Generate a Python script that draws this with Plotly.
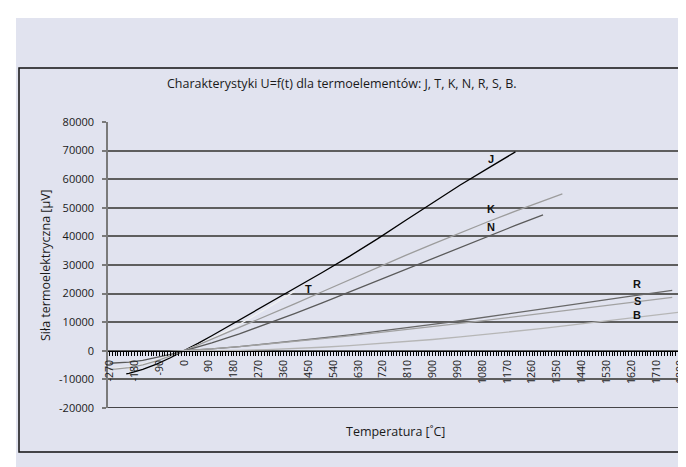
import plotly.graph_objects as go

# ---- data (thermo-EMF in microvolts vs temperature in deg C) ----
t_J = [-210, -200, -150, -100, -50, 0, 50, 100, 150, 200, 300, 400, 500, 600, 700, 800, 900, 1000, 1100, 1200]
u_J = [-8095, -7890, -6500, -4633, -2431, 0, 2585, 5269, 8010, 10779, 16327, 21848, 27393, 33102, 39132, 45494, 51877, 57953, 63792, 69553]

t_T = [-270, -250, -200, -150, -100, -50, 0, 50, 100, 150, 200, 300, 400]
u_T = [-6258, -6180, -5603, -4648, -3379, -1819, 0, 2036, 4279, 6704, 9288, 14862, 20872]

t_K = [-270, -250, -200, -150, -100, -50, 0, 100, 200, 300, 400, 500, 600, 700, 800, 900, 1000, 1100, 1200, 1300, 1370]
u_K = [-6458, -6404, -5891, -4913, -3554, -1889, 0, 4096, 8138, 12209, 16397, 20644, 24905, 29129, 33275, 37326, 41276, 45119, 48838, 52410, 54886]

t_N = [-270, -250, -200, -150, -100, -50, 0, 100, 200, 300, 400, 500, 600, 700, 800, 900, 1000, 1100, 1200, 1300]
u_N = [-4345, -4313, -3990, -3336, -2407, -1269, 0, 2774, 5913, 9341, 12974, 16748, 20613, 24527, 28455, 32371, 36256, 40087, 43846, 47513]

t_R = [-50, 0, 100, 200, 300, 400, 500, 600, 700, 800, 900, 1000, 1100, 1200, 1300, 1400, 1500, 1600, 1700, 1768]
u_R = [-226, 0, 647, 1469, 2401, 3408, 4471, 5583, 6743, 7950, 9205, 10506, 11850, 13228, 14629, 16040, 17451, 18849, 20222, 21103]

t_S = [-50, 0, 100, 200, 300, 400, 500, 600, 700, 800, 900, 1000, 1100, 1200, 1300, 1400, 1500, 1600, 1700, 1768]
u_S = [-236, 0, 646, 1441, 2323, 3259, 4233, 5239, 6275, 7345, 8449, 9587, 10757, 11951, 13159, 14373, 15582, 16777, 17947, 18693]

t_B = [0, 100, 200, 300, 400, 500, 600, 700, 800, 900, 1000, 1100, 1200, 1300, 1400, 1500, 1600, 1700, 1800, 1820]
u_B = [0, 33, 178, 431, 787, 1242, 1792, 2431, 3154, 3957, 4834, 5780, 6786, 7848, 8956, 10099, 11263, 12433, 13591, 13820]

x_tick_vals = [-270, -180, -90, 0, 90, 180, 270, 360, 450, 540, 630, 720, 810, 900, 990,
               1080, 1170, 1260, 1350, 1440, 1530, 1620, 1710, 1800]
x_tick_text = ["-270", "-180", "-90", "0", "90", "180", "270", "360", "450", "540", "630", "720", "810", "900", "990",
               "1080", "1170", "1260", "1350", "1440", "1530", "1620", "1710", "1800"]
y_tick_vals = [-20000, -10000, 0, 10000, 20000, 30000, 40000, 50000, 60000, 70000, 80000]
y_tick_text = ["-20000", "-10000", "0", "10000", "20000", "30000", "40000", "50000", "60000", "70000", "80000"]

series = [
    ("J", t_J, u_J, "#000000"),
    ("T", t_T, u_T, "#f2f2f2"),
    ("K", t_K, u_K, "#9c9c9c"),
    ("N", t_N, u_N, "#5a5a5a"),
    ("R", t_R, u_R, "#686868"),
    ("S", t_S, u_S, "#a2a2a2"),
    ("B", t_B, u_B, "#b6b6b6"),
]

W, H = 686, 467
L, R, T, B = 100, 3, 114, 67
PW, PH = W - L - R, H - T - B


def px(x):
    return (x - L) / PW


def py(y):
    return (H - B - y) / PH


BG = "#e1e3ef"
FONT = "Open Sans"

fig = go.Figure()
for name, xs, ys, col in series:
    fig.add_trace(go.Scatter(x=xs, y=ys, mode="lines", name=name,
                             line=dict(color=col, width=1.3), showlegend=False,
                             hoverinfo="skip"))

shapes = [
    # white margins
    dict(type="rect", xref="paper", yref="paper", x0=px(-5), x1=px(8), y0=py(H + 5), y1=py(-5),
         fillcolor="white", line=dict(width=0), layer="below"),
    dict(type="rect", xref="paper", yref="paper", x0=px(-5), x1=px(W + 5), y0=py(10), y1=py(-5),
         fillcolor="white", line=dict(width=0), layer="below"),
    # outer frame
    dict(type="rect", xref="paper", yref="paper", x0=px(11), x1=px(W + 10), y0=py(444), y1=py(60),
         fillcolor="rgba(0,0,0,0)", line=dict(color="#111111", width=1.5), layer="above"),
    # bottom gridline
    dict(type="line", xref="paper", yref="y", x0=0, x1=1, y0=-20000, y1=-20000,
         line=dict(color="#111111", width=1.3), layer="below"),
]

label_font = dict(family="Liberation Sans", size=11, color="#111111")
annotations = [
    dict(text="Charakterystyki U=f(t) dla termoelementów: J, T, K, N, R, S, B.", xref="paper", yref="paper",
         x=px(334), y=py(76), showarrow=False, xanchor="center", yanchor="middle",
         font=dict(family=FONT, size=12.5, color="#1a1a1a")),
    dict(text="Temperatura [˚C]", xref="paper", yref="paper", x=px(387), y=py(423), showarrow=False,
         xanchor="center", yanchor="middle", font=dict(family=FONT, size=12.5, color="#1a1a1a")),
    dict(text="Siła termoelektryczna [µV]", xref="paper", yref="paper", x=px(37), y=py(257),
         showarrow=False, textangle=-90, xanchor="center", yanchor="middle",
         font=dict(family=FONT, size=12.5, color="#1a1a1a")),
]
for name, lx, ly in [("J", 1110, 67200), ("K", 1112, 49600), ("N", 1112, 43300), ("T", 449, 21600),
                     ("R", 1640, 23400), ("S", 1642, 17300), ("B", 1642, 12400)]:
    annotations.append(dict(text="<b>" + name + "</b>", x=lx, y=ly, xref="x", yref="y", showarrow=False,
                            xanchor="center", yanchor="middle", font=label_font))

fig.update_layout(
    width=W, height=H,
    margin=dict(l=L, r=R, t=T, b=B, pad=0),
    paper_bgcolor=BG, plot_bgcolor="rgba(0,0,0,0)",
    font=dict(family=FONT, size=11, color="#1a1a1a"),
    shapes=shapes, annotations=annotations,
    xaxis=dict(range=[-276, 1836], anchor="free", position=py(342.8),
               showline=True, linecolor="#000000", linewidth=1,
               tickmode="array", tickvals=x_tick_vals, ticktext=x_tick_text,
               ticks="outside", ticklen=4, tickcolor="#000000", tickwidth=1,
               tickangle=-90, tickfont=dict(family=FONT, size=10.5, color="#1a1a1a"),
               minor=dict(tickmode="linear", tick0=-270, dtick=10, ticks="outside", ticklen=4,
                          tickcolor="#000000", tickwidth=1, showgrid=False),
               showgrid=False, zeroline=False, fixedrange=True),
    yaxis=dict(range=[-20000, 80000], tickmode="array", tickvals=y_tick_vals, ticktext=y_tick_text,
               showgrid=True, gridcolor="#5e5e5e", gridwidth=1.5,
               showline=True, linecolor="#7a7a7a", linewidth=1.5,
               ticks="outside", ticklen=4, tickcolor="#7a7a7a", tickwidth=1.5,
               ticklabelstandoff=6,
               tickfont=dict(family=FONT, size=11, color="#1a1a1a"),
               zeroline=False, fixedrange=True),
)

fig.write_html("out.html")
